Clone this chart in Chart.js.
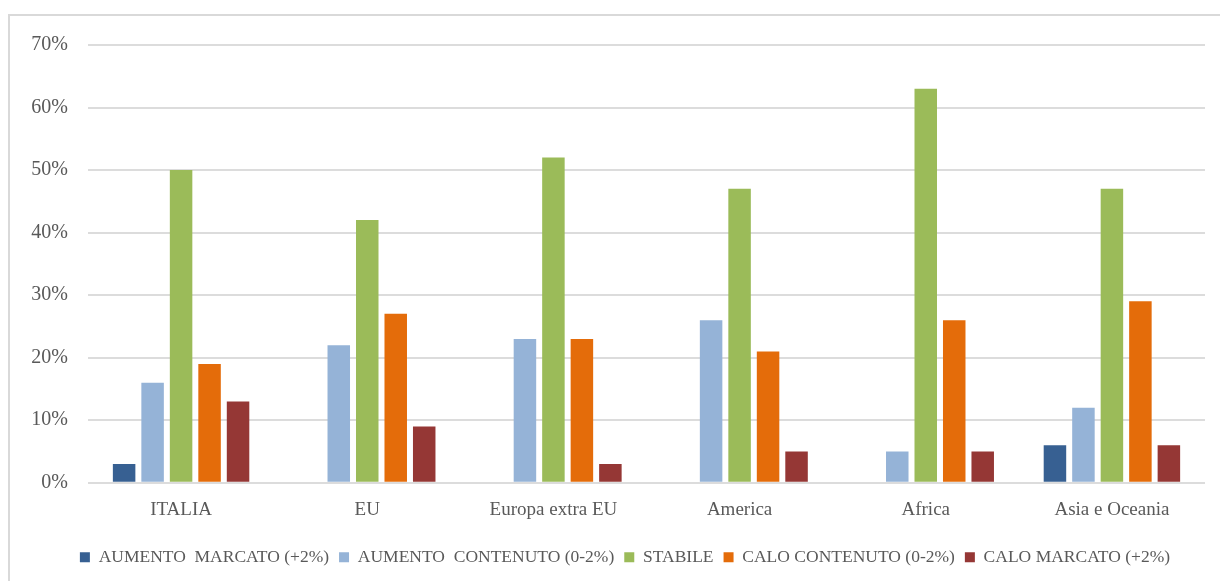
<!DOCTYPE html>
<html>
<head>
<meta charset="utf-8">
<script src="https://cdn.jsdelivr.net/npm/chart.js@4/dist/chart.umd.min.js"></script>
<style>
  html, body { margin: 0; padding: 0; background: #fff; }
  #wrap { position: relative; width: 1220px; height: 581px; overflow: hidden; }
  #frame { position: absolute; left: 8px; top: 14px; width: 1300px; height: 700px;
           border-left: 2px solid #d9d9d9; border-top: 2px solid #d9d9d9; box-sizing: border-box; }
  #c { position: absolute; left: 0; top: 0; }
</style>
</head>
<body>
<div id="wrap">
  <div id="frame"></div>
  <canvas id="c" width="1220" height="581"></canvas>
</div>
<script>
const categorie = ['ITALIA', 'EU', 'Europa extra EU', 'America', 'Africa', 'Asia e Oceania'];

const aumentoMarcato   = [3, 0, 0, 0, 0, 6];
const aumentoContenuto = [16, 22, 23, 26, 5, 12];
const stabile          = [50, 42, 52, 47, 63, 47];
const caloContenuto    = [19, 27, 23, 21, 26, 29];
const caloMarcato      = [13, 9, 3, 5, 5, 6];

const nomiSerie = ['AUMENTO  MARCATO (+2%)', 'AUMENTO  CONTENUTO (0-2%)', 'STABILE',
                   'CALO CONTENUTO (0-2%)', 'CALO MARCATO (+2%)'];
const colori = ['#376092', '#95b3d7', '#9bbb59', '#e46c0a', '#953735'];

const valori = [aumentoMarcato, aumentoContenuto, stabile, caloContenuto, caloMarcato];
const fontSerif = '"Liberation Serif", "DejaVu Serif", serif';

// sposta la legenda per centrarla sul riquadro come nell'originale
const spostaLegenda = {
    id: 'spostaLegenda',
    afterLayout(chart) {
        const lg = chart.legend;
        lg.left += 45;
        lg.top += 9;
        lg.bottom += 9;
    }
};

new Chart(document.getElementById('c'), {
    type: 'bar',
    data: {
        labels: categorie,
        datasets: valori.map((v, i) => ({
            label: nomiSerie[i],
            data: v,
            backgroundColor: colori[i],
            borderWidth: 0,
            categoryPercentage: 0.765,
            barPercentage: 0.79
        }))
    },
    options: {
        responsive: false,
        animation: false,
        layout: { padding: { left: 0, right: 15, top: 45, bottom: 14 } },
        plugins: {
            tooltip: { enabled: false },
            legend: {
                position: 'bottom',
                labels: {
                    boxWidth: 10,
                    boxHeight: 10,
                    padding: 10,
                    color: '#595959',
                    font: { family: fontSerif, size: 17.5 }
                }
            }
        },
        scales: {
            x: {
                grid: { display: false },
                border: { display: false },
                ticks: { color: '#595959', font: { family: fontSerif, size: 19 }, padding: 8 }
            },
            y: {
                min: 0,
                max: 70,
                afterFit: (scale) => { scale.width = 88; },
                grid: { color: '#dcdcdc', lineWidth: 2, drawTicks: false },
                border: { display: false },
                ticks: {
                    stepSize: 10,
                    color: '#595959',
                    padding: 20,
                    font: { family: fontSerif, size: 20 },
                    callback: (v) => v + '%'
                }
            }
        }
    },
    plugins: [spostaLegenda]
});
</script>
</body>
</html>
